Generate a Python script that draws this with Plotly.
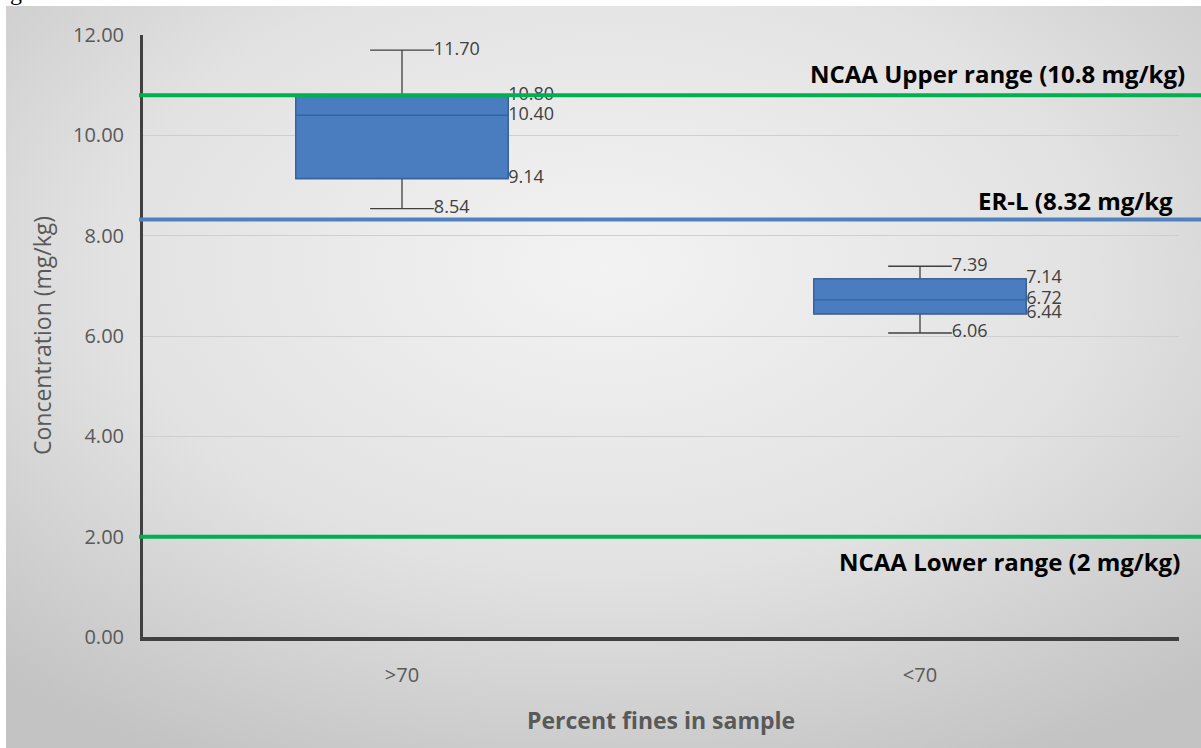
import base64
import plotly.graph_objects as go

# Box-plot statistics per sediment group (concentration, mg/kg)
categories = [">70", "<70"]
lower_whisker = [8.54, 6.06]
q1 = [9.14, 6.44]
median = [10.40, 6.72]
q3 = [10.80, 7.14]
upper_whisker = [11.70, 7.39]

# Guideline levels drawn as horizontal reference lines
ref_values = [10.8, 8.32, 2.0]
ref_labels = ["NCAA Upper range (10.8 mg/kg)", "ER-L (8.32 mg/kg", "NCAA Lower range (2 mg/kg)"]
ref_colors = ["#00B050", "#4F81BD", "#00B050"]
ref_label_shift = [22, 19, -25]
ref_label_x = [1.0077, 0.9961, 1.0029]

y_ticks = [0, 2, 4, 6, 8, 10, 12]

W, H = 1201, 748
ML, MR, MT, MB = 143, 22, 35, 111
PW, PH = W - ML - MR, H - MT - MB

BOX_W = 0.41
WHISK_W = 0.3
xpos = list(range(len(categories)))

fig = go.Figure()

# whiskers (grey) drawn with the full fences
fig.add_trace(go.Box(
    x=xpos, q1=q1, median=median, q3=q3,
    lowerfence=lower_whisker, upperfence=upper_whisker,
    width=BOX_W, whiskerwidth=WHISK_W,
    line=dict(color="#404040", width=1.3),
    fillcolor="rgba(0,0,0,0)", boxpoints=False, hoverinfo="skip",
    showlegend=False,
))
# blue boxes on top (fences at the quartiles so no whiskers)
fig.add_trace(go.Box(
    x=xpos, q1=q1, median=median, q3=q3,
    lowerfence=q1, upperfence=q3,
    width=BOX_W, whiskerwidth=0,
    line=dict(color="#3562A3", width=1.3),
    fillcolor="#4A7CC0", boxpoints=False,
    showlegend=False,
))

label_font = dict(family="Open Sans", size=18, color="#404040")
cap_half = BOX_W * WHISK_W / 2
box_half = BOX_W / 2

# whisker-end value labels
for vals in (upper_whisker, lower_whisker):
    fig.add_trace(go.Scatter(
        x=[x + cap_half for x in xpos], y=vals, mode="text",
        text=[f"{v:.2f}" for v in vals], textposition="middle right",
        textfont=label_font, showlegend=False, hoverinfo="skip",
    ))
# quartile / median value labels at the box edge
for vals in (q3, median, q1):
    fig.add_trace(go.Scatter(
        x=[x + box_half for x in xpos], y=vals, mode="text",
        text=[f"{v:.2f}" for v in vals], textposition="middle right",
        textfont=label_font, showlegend=False, hoverinfo="skip",
    ))

shapes = []
annotations = []
for v, lab, c, sh, lx in zip(ref_values, ref_labels, ref_colors, ref_label_shift, ref_label_x):
    shapes.append(dict(
        type="line", xref="paper", yref="y",
        x0=(139 - ML) / PW, x1=(W - ML) / PW, y0=v, y1=v,
        line=dict(color=c, width=4), layer="above",
    ))
    annotations.append(dict(
        text=lab, xref="paper", yref="y", x=lx, y=v, yshift=sh,
        xanchor="right", yanchor="middle", showarrow=False,
        font=dict(family="Open Sans", size=24, color="#000000", weight="bold"),
    ))

# axis titles
annotations.append(dict(
    text="Concentration (mg/kg)", xref="paper", yref="paper",
    x=(42 - ML) / PW, y=0.5, textangle=-90, showarrow=False,
    xanchor="center", yanchor="middle",
    font=dict(family="Open Sans", size=23, color="#595959"),
))
annotations.append(dict(
    text="Percent fines in sample", xref="paper", yref="paper",
    x=0.5, y=(H - MB - 720) / PH, showarrow=False,
    xanchor="center", yanchor="middle",
    font=dict(family="Open Sans", size=23, color="#595959", weight="bold"),
))
# caption fragment above the chart frame
annotations.append(dict(
    text="g", xref="paper", yref="paper",
    x=(8 - ML) / PW, y=(H - MB - 7) / PH, showarrow=False,
    xanchor="left", yanchor="bottom",
    font=dict(family="Liberation Serif", size=24, color="#000000"),
))

# soft grey radial backdrop behind the chart frame
frame_x0, frame_y0 = 6, 6
svg = (
    '<svg xmlns="http://www.w3.org/2000/svg" width="1195" height="742" '
    'viewBox="0 0 1195 742" preserveAspectRatio="none">'
    '<defs><radialGradient id="bg" cx="50%" cy="35%" r="75%">'
    '<stop offset="0" stop-color="#f3f3f3"/>'
    '<stop offset="0.55" stop-color="#e2e2e2"/>'
    '<stop offset="1" stop-color="#c3c3c3"/>'
    '</radialGradient></defs>'
    '<rect x="0" y="0" width="1195" height="742" fill="url(#bg)"/></svg>'
)
src = "data:image/svg+xml;base64," + base64.b64encode(svg.encode()).decode()

fig.update_layout(
    width=W, height=H,
    margin=dict(l=ML, r=MR, t=MT, b=MB, pad=0),
    paper_bgcolor="#ffffff",
    plot_bgcolor="rgba(0,0,0,0)",
    shapes=shapes,
    annotations=annotations,
    images=[dict(
        source=src, xref="paper", yref="paper",
        x=(frame_x0 - ML) / PW, y=(H - MB - frame_y0) / PH,
        sizex=(W - frame_x0) / PW, sizey=(H - frame_y0) / PH,
        xanchor="left", yanchor="top", sizing="stretch", layer="below",
    )],
    xaxis=dict(
        range=[-0.5, 1.5], tickvals=xpos, ticktext=categories,
        showgrid=False, zeroline=False,
        showline=True, linecolor="#404040", linewidth=4,
        ticks="", ticklabelstandoff=17,
        tickfont=dict(family="Open Sans", size=20, color="#595959"),
        fixedrange=True,
    ),
    yaxis=dict(
        range=[0, 12], tickvals=y_ticks,
        ticktext=[f"{v:.2f}" for v in y_ticks],
        showgrid=True, gridcolor="#cfcfcf", gridwidth=1,
        zeroline=False,
        showline=True, linecolor="#404040", linewidth=3,
        ticks="", ticklabelstandoff=12,
        tickfont=dict(family="Open Sans", size=20, color="#595959"),
        fixedrange=True,
    ),
    boxmode="overlay",
    showlegend=False,
)

fig.write_html("out.html")
